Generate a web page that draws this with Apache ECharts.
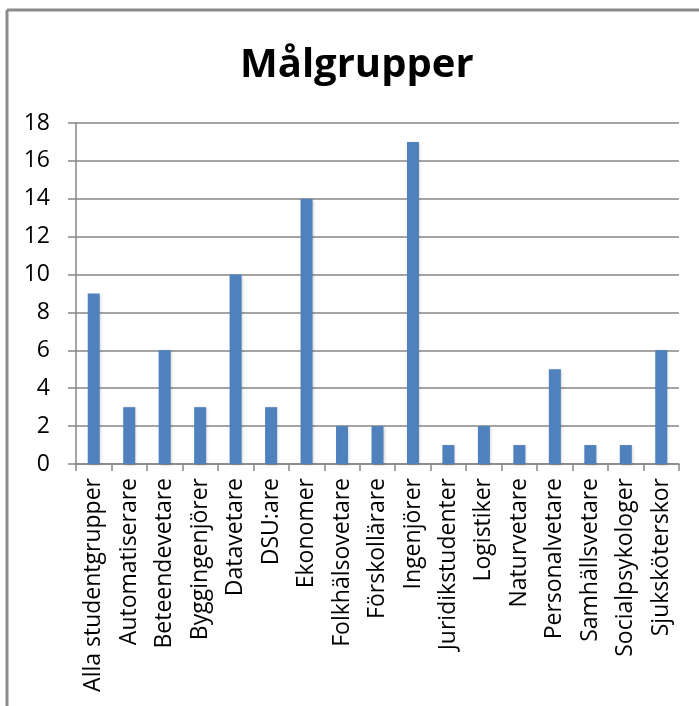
<!DOCTYPE html>
<html><head><meta charset="utf-8">
<script src="https://cdn.jsdelivr.net/npm/echarts@6/dist/echarts.min.js"></script>
<style>html,body{margin:0;padding:0;background:#fff}#c{width:699px;height:706px}</style>
</head><body><div id="c"></div>
<script>
const categories = ["Alla studentgrupper","Automatiserare","Beteendevetare","Byggingenjörer","Datavetare","DSU:are","Ekonomer","Folkhälsovetare","Förskollärare","Ingenjörer","Juridikstudenter","Logistiker","Naturvetare","Personalvetare","Samhällsvetare","Socialpsykologer","Sjuksköterskor"];
const values = [9,3,6,3,10,3,14,2,2,17,1,2,1,5,1,1,6];
const yTicks = [0,2,4,6,8,10,12,14,16,18];
const title = "Målgrupper";

const chart = echarts.init(document.getElementById('c'));
const font = "'Open Sans', 'Noto Sans', sans-serif";
chart.setOption({
  animation: false,
  backgroundColor: '#fff',
  title: { text: title, left: 235, top: 41, textStyle: { fontFamily: font, fontSize: 40, fontWeight: 'bold', color: '#000' } },
  graphic: [
    { type: 'line', shape: { x1: 7, y1: 10, x2: 699, y2: 10 }, style: { stroke: '#8a8a8a', lineWidth: 3 } },
    { type: 'line', shape: { x1: 7, y1: 10, x2: 7, y2: 706 }, style: { stroke: '#8a8a8a', lineWidth: 3 } }
  ],
  grid: { left: 76, right: 20, top: 123, bottom: 242, containLabel: false },
  xAxis: {
    type: 'category', data: categories,
    axisLine: { lineStyle: { color: '#868686', width: 1.5 } },
    axisTick: { show: true, length: 7, inside: false, lineStyle: { color: '#868686', width: 1.5 } },
    axisLabel: { rotate: 90, interval: 0, fontFamily: font, fontSize: 23, color: '#000', margin: 14 }
  },
  yAxis: {
    type: 'value', min: 0, max: 18, interval: 2,
    axisLine: { show: true, lineStyle: { color: '#868686', width: 1.5 } },
    axisTick: { show: true, length: 8, lineStyle: { color: '#868686', width: 1.5 } },
    splitLine: { lineStyle: { color: '#868686', width: 1.5 } },
    axisLabel: { show: true, fontFamily: font, fontSize: 23, color: '#000', margin: 26,
      formatter: v => yTicks.includes(v) ? String(v) : '' }
  },
  series: [{
    type: 'bar', data: values, barWidth: 12,
    itemStyle: { color: '#4F81BD', shadowColor: 'rgba(0,0,0,0.2)', shadowBlur: 3, shadowOffsetX: 1, shadowOffsetY: 1 }
  }]
});
</script></body></html>
